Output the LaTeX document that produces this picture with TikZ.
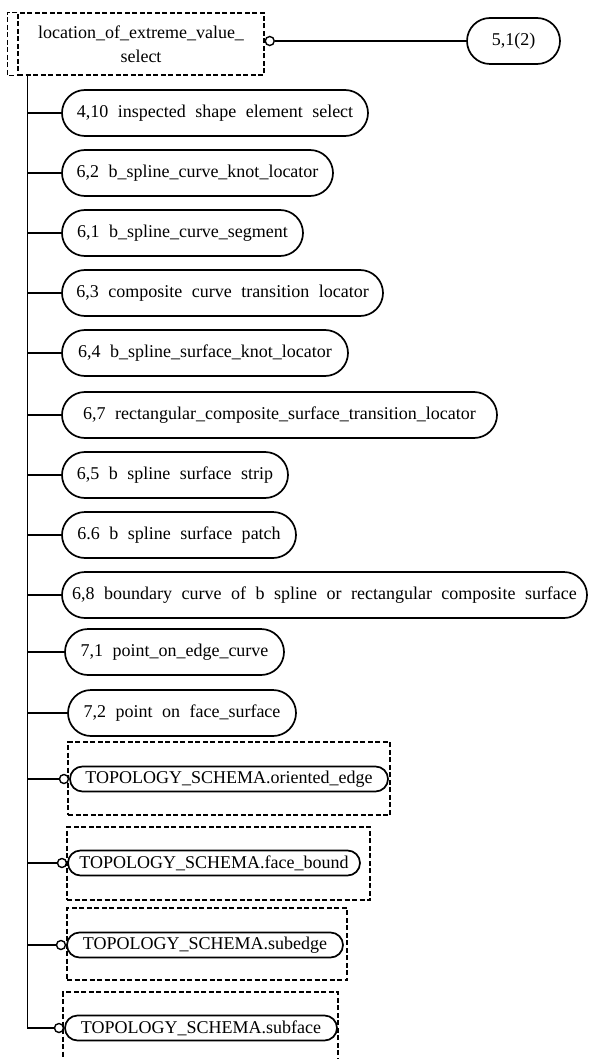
\documentclass[tikz,border=0pt]{standalone}
\usepackage{fontspec}
\setmainfont{Liberation Serif}
\begin{document}
\begin{tikzpicture}[x=1pt,y=-1pt,
  txt/.style={font=\fontsize{18}{24}\selectfont},
  oval/.style={draw, line width=1.7pt, rounded corners=23pt, minimum height=46pt, inner sep=0pt, txt,
     execute at begin node={\spaceskip=9.5pt\relax}},
  soval/.style={draw, line width=1.7pt, rounded corners=12.5pt, minimum height=25pt, inner sep=0pt, txt},
  dbox/.style={draw, line width=1.1pt, dash pattern=on 5pt off 2.5pt, inner sep=0pt},
  dline/.style={line width=1.1pt, dash pattern=on 5pt off 2.5pt},
  circ/.style={draw, circle, line width=1.4pt, minimum size=9pt, inner sep=0pt, fill=white},
  conn/.style={line width=1.6pt},
  thickconn/.style={line width=2.2pt}
]
\useasboundingbox (0,0) rectangle (589,1059);

% top select box
\node[dbox, minimum width=246pt, minimum height=62pt, align=center, txt] (sel) at (141,44)
  {location\_of\_extreme\_value\_\\select};
\draw[dline] (sel.north west) -- ++(-10,0) |- (sel.south west);
\node[oval, minimum width=93pt] (ref) at (513.5,41) {5,1(2)};
\node[circ, anchor=west] (c0) at (sel.east |- ref) {};
\draw[thickconn] (c0) -- (ref);

\coordinate (tr) at ([xshift=10pt]sel.south west);

% ovals
\node[oval, minimum width=306pt] (o1) at (215,113) {4,10 inspected shape element select};
\node[oval, minimum width=271pt] (o2) at (197.5,173) {6,2 b\_spline\_curve\_knot\_locator};
\node[oval, minimum width=241pt] (o3) at (182.5,233) {6,1 b\_spline\_curve\_segment};
\node[oval, minimum width=321pt] (o4) at (222.5,293) {6,3 composite curve transition locator};
\node[oval, minimum width=286pt] (o5) at (205,353) {6,4 b\_spline\_surface\_knot\_locator};
\node[oval, minimum width=435pt] (o6) at (279.5,415) {6,7 rectangular\_composite\_surface\_transition\_locator};
\node[oval, minimum width=226pt] (o7) at (175,475) {6,5 b spline surface strip};
\node[oval, minimum width=234pt] (o8) at (179,535) {6.6 b spline surface patch};
\node[oval, minimum width=525pt] (o9) at (324.5,595) {6,8 boundary curve of b spline or rectangular composite surface};
\node[oval, minimum width=219pt] (o10) at (174.5,652) {7,1 point\_on\_edge\_curve};
\node[oval, minimum width=228pt] (o11) at (182,713) {7,2 point on face\_surface};

\foreach \n in {o1,o2,o3,o4,o5,o6,o7,o8,o9,o10,o11}
  \draw[conn] (tr |- \n.west) -- (\n.west);

% schema boxes
\node[dbox, minimum width=322pt, minimum height=73pt] (b12) at (229,778.5) {};
\node[dbox, minimum width=303pt, minimum height=73pt] (b13) at (218.5,863.5) {};
\node[dbox, minimum width=280pt, minimum height=72pt] (b14) at (207,944) {};
\node[dbox, minimum width=275pt, minimum height=73pt] (b15) at (200.5,1028.5) {};

\node[soval, minimum width=318pt] (s12) at (229,779) {TOPOLOGY\_SCHEMA.oriented\_edge};
\node[soval, minimum width=292pt] (s13) at (214,863) {TOPOLOGY\_SCHEMA.face\_bound};
\node[soval, minimum width=276pt] (s14) at (205,945) {TOPOLOGY\_SCHEMA.subedge};
\node[soval, minimum width=272pt] (s15) at (201,1028) {TOPOLOGY\_SCHEMA.subface};

\foreach \n in {12,13,14}{
  \node[circ, anchor=east] (c\n) at (s\n.west) {};
  \draw[conn] (tr |- c\n.west) -- (c\n.west);
}
\node[circ, anchor=east] (c15) at (s15.west) {};
\draw[conn] (tr) |- (c15.west);
\end{tikzpicture}
\end{document}
